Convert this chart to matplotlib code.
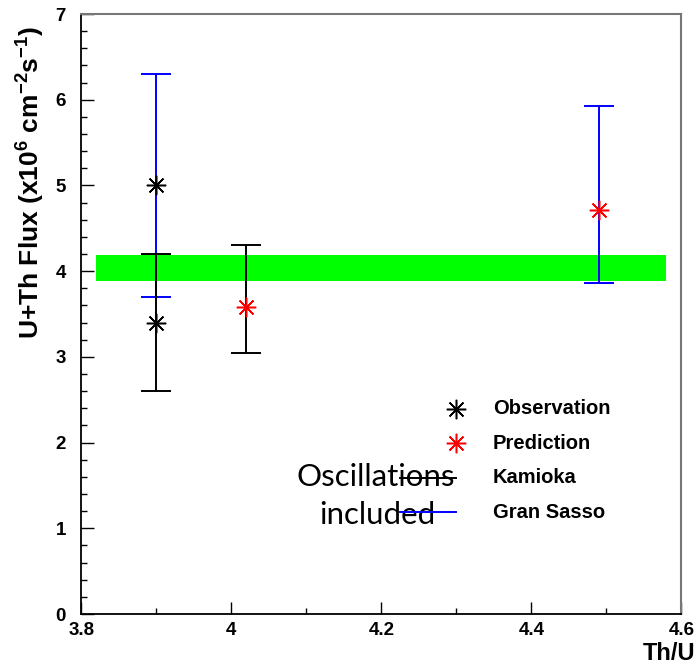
#!/usr/bin/env python3
# -*- coding: utf-8 -*-

import numpy as np
import matplotlib
matplotlib.use('Agg')
import matplotlib.pyplot as plt
from matplotlib.ticker import MultipleLocator

# geoneutrino flux vs Th/U ratio
obs_site  = ['Kamioka', 'Gran Sasso']
obs_thu   = [3.90, 3.90]
obs_flux  = [3.40, 5.00]
obs_lo    = [0.80, 1.30]
obs_hi    = [0.80, 1.30]

pred_site = ['Kamioka', 'Gran Sasso']
pred_thu  = [4.02, 4.49]
pred_flux = [3.58, 4.71]
pred_lo   = [0.53, 0.85]
pred_hi   = [0.72, 1.22]

# model band
band_x  = [3.82, 4.58]
band_lo = 3.88
band_hi = 4.19

site_color = {'Kamioka': 'black', 'Gran Sasso': '#0000ff'}
star = (8, 2, 0)

def main():
    plt.rcParams['font.family'] = ['Liberation Sans', 'DejaVu Sans']
    plt.rcParams['mathtext.fontset'] = 'custom'
    plt.rcParams['mathtext.rm'] = 'Liberation Sans:bold'
    plt.rcParams['mathtext.bf'] = 'Liberation Sans:bold'
    plt.rcParams['mathtext.default'] = 'bf'

    fig = plt.figure(figsize=(6.98, 6.64), dpi=100)
    ax  = fig.add_axes([0.1165, 0.0753, 0.8596, 0.9036])

    ax.fill_between(band_x, band_lo, band_hi, color='#00ff00', lw=0, zorder=1)

    # error bars, Gran Sasso first so Kamioka sits on top
    order = [1, 0]
    for i in order:
        c = site_color[obs_site[i]]
        ax.errorbar(obs_thu[i], obs_flux[i], yerr=[[obs_lo[i]], [obs_hi[i]]],
                    fmt='none', ecolor=c, elinewidth=1.4, capsize=10.5,
                    capthick=1.4, zorder=2)
    for i in order:
        c = site_color[pred_site[i]]
        ax.errorbar(pred_thu[i], pred_flux[i], yerr=[[pred_lo[i]], [pred_hi[i]]],
                    fmt='none', ecolor=c, elinewidth=1.4, capsize=10.5,
                    capthick=1.4, zorder=2)

    ax.plot(obs_thu, obs_flux, ls='none', marker=star, ms=14, mew=1.1,
            color='black', zorder=3)
    ax.plot(pred_thu, pred_flux, ls='none', marker=star, ms=14, mew=1.1,
            color='#ff0000', zorder=3)

    ax.set_xlim(3.8, 4.6)
    ax.set_ylim(0, 7)
    ax.xaxis.set_major_locator(MultipleLocator(0.2))
    ax.xaxis.set_minor_locator(MultipleLocator(0.1))
    ax.yaxis.set_major_locator(MultipleLocator(1))
    ax.yaxis.set_minor_locator(MultipleLocator(0.2))
    ax.xaxis.set_major_formatter(lambda v, p: '%g' % round(v, 2))

    ax.tick_params(which='both', direction='in', top=False, right=False,
                   width=1.0, color='black')
    ax.tick_params(which='major', length=9)
    ax.tick_params(which='minor', length=4.5)
    ax.tick_params(axis='both', labelsize=13.5)
    ax.tick_params(axis='y', pad=11)
    ax.tick_params(axis='x', pad=6)
    for lbl in ax.get_xticklabels() + ax.get_yticklabels():
        lbl.set_fontweight('bold')

    for s in ['left', 'bottom']:
        ax.spines[s].set_linewidth(1.3)
        ax.spines[s].set_color('black')
    for s in ['top', 'right']:
        ax.spines[s].set_linewidth(1.5)
        ax.spines[s].set_color('#777777')

    ax.set_ylabel(r'U+Th Flux (x10$^{6}$ cm$^{-2}$s$^{-1}$)',
                  fontsize=19, fontweight='bold')
    ax.yaxis.set_label_coords(-0.058, 0.72)
    ax.set_xlabel('Th/U', fontsize=17, fontweight='bold')
    ax.xaxis.set_label_coords(1.023, -0.046)
    ax.xaxis.label.set_horizontalalignment('right')

    # hand-made legend
    tr = ax.transAxes
    mx, tx, lx = 0.6245, 0.686, 0.531
    rows = [0.3417, 0.285, 0.2267, 0.170]
    ax.plot([mx], [rows[0]], transform=tr, marker=star, ms=14, mew=1.1,
            color='black', clip_on=False)
    ax.plot([mx], [rows[1]], transform=tr, marker=star, ms=14, mew=1.1,
            color='#ff0000', clip_on=False)
    ax.plot([lx, mx], [rows[2], rows[2]], transform=tr, lw=1.4,
            color=site_color['Kamioka'], zorder=5)
    ax.plot([lx, mx], [rows[3], rows[3]], transform=tr, lw=1.4,
            color=site_color['Gran Sasso'], zorder=5)
    labels = ['Observation', 'Prediction'] + obs_site
    for y, t in zip(rows, labels):
        ax.text(tx, y, t, transform=tr, fontsize=14.5, fontweight='bold',
                va='center', ha='left')

    ax.text(0.491, 0.228, 'Oscillations', transform=tr, fontsize=22.5,
            family=['Lato', 'DejaVu Sans'], ha='center', va='center', zorder=4)
    ax.text(0.493, 0.165, 'included', transform=tr, fontsize=22.5,
            family=['Lato', 'DejaVu Sans'], ha='center', va='center', zorder=4)

    fig.savefig('out.png', dpi=100)

if __name__ == '__main__':
    main()
